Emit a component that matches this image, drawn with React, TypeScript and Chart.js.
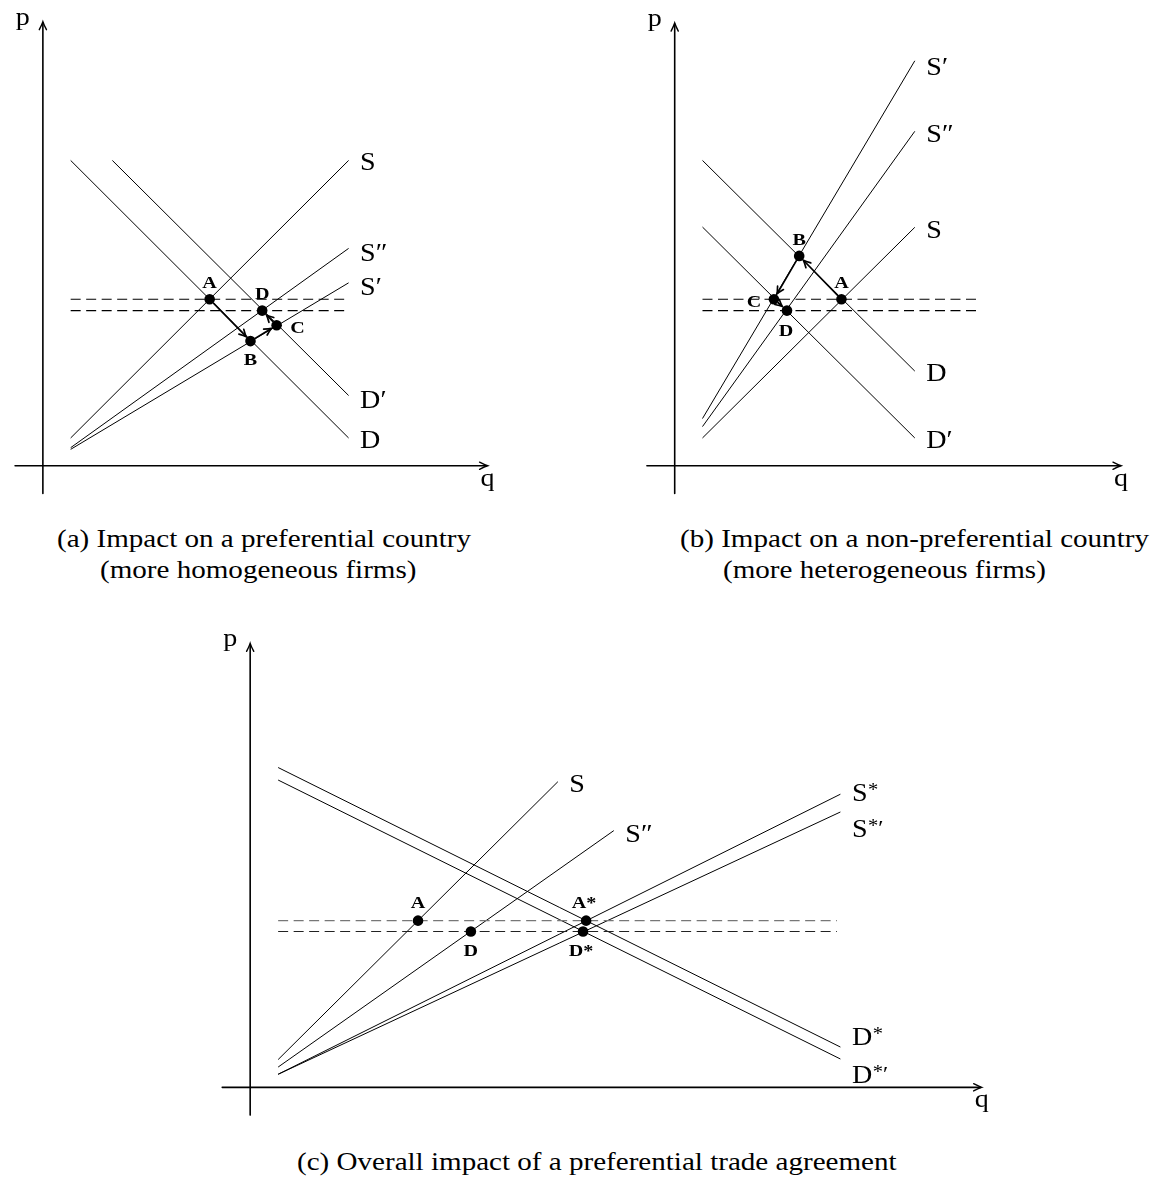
import React, { useEffect, useRef } from "react";
import { Chart, registerables } from "chart.js";

Chart.register(...registerables);

type P = [number, number];

// ---------- Panel (a): preferential country ----------
const A_LINE_NAMES = ["S", "S″", "S′", "D′", "D"];
const A_LINES: P[][] = [
  [[1, 1], [11, 11]],
  [[1, 0.65], [11, 7.83]],
  [[1, 0.59], [11, 6.59]],
  [[2.5, 11], [11, 2.53]],
  [[1, 11], [11, 1]],
];
const A_PRICE_LEVELS = [6.0, 5.59];
const A_PRICE_RANGE = [1, 10.9];
const A_POINT_NAMES = ["A", "B", "C", "D"];
const A_POINT_Q = [6.0, 7.47, 8.41, 7.89];
const A_POINT_P = [6.0, 4.49, 5.06, 5.59];
const A_ARROWS = [["A", "B"], ["B", "C"], ["C", "D"]];

// ---------- Panel (b): non-preferential country ----------
const B_LINE_NAMES = ["S′", "S″", "S", "D", "D′"];
const B_LINES: P[][] = [
  [[1, 1.7], [8.64, 14.59]],
  [[1, 1.41], [8.64, 12.05]],
  [[1, 1], [8.64, 8.59]],
  [[1, 11], [8.64, 3.41]],
  [[1, 8.6], [8.64, 1.0]],
];
const B_PRICE_LEVELS = [6.0, 5.59];
const B_PRICE_RANGE = [1, 10.9];
const B_POINT_NAMES = ["A", "B", "C", "D"];
const B_POINT_Q = [6.0, 4.48, 3.57, 4.04];
const B_POINT_P = [6.0, 7.56, 6.0, 5.59];
const B_ARROWS = [["A", "B"], ["B", "C"], ["C", "D"]];

// ---------- Panel (c): overall impact ----------
const C_LINE_NAMES = ["S", "S″", "S*", "S*′", "D*", "D*′"];
const C_LINES: P[][] = [
  [[1, 1], [11, 11]],
  [[1, 0.73], [13, 9.24]],
  [[1, 0.47], [21.1, 10.55]],
  [[1, 0.47], [21.1, 9.91]],
  [[1, 11.51], [21.1, 1.45]],
  [[1, 11.06], [21.1, 1.02]],
];
const C_PRICE_LEVELS = [6.0, 5.61];
const C_PRICE_RANGE = [1, 20.98];
const C_POINT_NAMES = ["A", "D", "A*", "D*"];
const C_POINT_Q = [6.0, 7.89, 12.01, 11.9];
const C_POINT_P = [6.0, 5.61, 6.0, 5.61];
const C_ARROWS: string[][] = [];

const AXIS_LABELS = ["p", "q"];
const CAPTIONS = [
  ["(a) Impact on a preferential country", "(more homogeneous firms)"],
  ["(b) Impact on a non-preferential country", "(more heterogeneous firms)"],
  ["(c) Overall impact of a preferential trade agreement"],
];

// ---------- styling / layout ----------
const PPU = 28.33; // pixels per unit
const SERIF = '"Liberation Serif", "Times New Roman", serif';
const SX = 1.08;
const LABEL_SIZE = 26;
const DOT_R = 5.3;

interface PanelCfg {
  left: number; top: number; w: number; h: number; ox: number; oy: number;
  axisX: P; axisY: P;
  lines: P[][]; names: string[]; labelDy: number[];
  levels: number[]; levelRange: number[]; dashColors: string[];
  pNames: string[]; pq: number[]; pp: number[]; pOff: P[];
  arrows: string[][];
}

const PANELS: PanelCfg[] = [
  {
    left: 0, top: 0, w: 560, h: 520, ox: 38.3, oy: 470,
    axisX: [-1, 16], axisY: [-1, 16],
    lines: A_LINES, names: A_LINE_NAMES, labelDy: [1, 4, 3.4, 3.4, 1.6],
    levels: A_PRICE_LEVELS, levelRange: A_PRICE_RANGE, dashColors: ["#000", "#000"],
    pNames: A_POINT_NAMES, pq: A_POINT_Q, pp: A_POINT_P,
    pOff: [[0, -17], [0, 18], [21, 2], [0, -17]],
    arrows: A_ARROWS,
  },
  {
    left: 600, top: 0, w: 555, h: 520, ox: 70.75, oy: 470,
    axisX: [-1, 16.06], axisY: [-1, 15.95],
    lines: B_LINES, names: B_LINE_NAMES, labelDy: [5, 2.4, 1.6, 1.7, 1.6],
    levels: B_PRICE_LEVELS, levelRange: B_PRICE_RANGE, dashColors: ["#000", "#000"],
    pNames: B_POINT_NAMES, pq: B_POINT_Q, pp: B_POINT_P,
    pOff: [[0, -17], [0, -17], [-20, 2], [-1, 20]],
    arrows: B_ARROWS,
  },
  {
    left: 180, top: 590, w: 840, h: 550, ox: 65.7, oy: 501.7,
    axisX: [-1, 26.15], axisY: [-1, 15.98],
    lines: C_LINES, names: C_LINE_NAMES, labelDy: [2, 3, -1.7, 16.5, -10.7, 15.3],
    levels: C_PRICE_LEVELS, levelRange: C_PRICE_RANGE, dashColors: ["#777", "#222"],
    pNames: C_POINT_NAMES, pq: C_POINT_Q, pp: C_POINT_P,
    pOff: [[0, -18], [0, 19], [-2, -18], [-2, 19]],
    arrows: C_ARROWS,
  },
];

function txt(ctx: CanvasRenderingContext2D, s: string, x: number, y: number, size: number, bold: boolean, align: string, sx = SX) {
  ctx.save();
  ctx.font = `${bold ? "bold " : ""}${size}px ${SERIF}`;
  const w = ctx.measureText(s).width * sx;
  const left = align === "center" ? x - w / 2 : align === "right" ? x - w : x;
  ctx.translate(left, y);
  ctx.scale(sx, 1);
  ctx.textAlign = "left";
  ctx.textBaseline = "alphabetic";
  ctx.fillStyle = "#000";
  ctx.fillText(s, 0, 0);
  ctx.restore();
  return w;
}

function drawLineLabel(ctx: CanvasRenderingContext2D, name: string, x: number, yBase: number) {
  const star = name.indexOf("*");
  if (star < 0) {
    txt(ctx, name, x, yBase, LABEL_SIZE, false, "left");
    return;
  }
  const base = name.slice(0, star);
  const rest = name.slice(star + 1);
  const w = txt(ctx, base, x, yBase, LABEL_SIZE, false, "left");
  const cx = x + w + 0.5;
  const sw = txt(ctx, "*", cx, yBase - 5, 19, false, "left");
  if (rest.length) txt(ctx, rest, cx + sw, yBase - 2, 22, false, "left");
}

function arrowHead(ctx: CanvasRenderingContext2D, tx: number, ty: number, dx: number, dy: number, len: number, half: number) {
  const bx = tx - dx * len, by = ty - dy * len;
  const nx = -dy, ny = dx;
  ctx.beginPath();
  ctx.moveTo(bx + nx * half, by + ny * half);
  ctx.quadraticCurveTo(tx - dx * len * 0.35 + nx * half * 0.25, ty - dy * len * 0.35 + ny * half * 0.25, tx, ty);
  ctx.quadraticCurveTo(tx - dx * len * 0.35 - nx * half * 0.25, ty - dy * len * 0.35 - ny * half * 0.25, bx - nx * half, by - ny * half);
  ctx.stroke();
}

function makeChart(canvas: HTMLCanvasElement, cfg: PanelCfg) {
  const xmin = -cfg.ox / PPU, xmax = (cfg.w - cfg.ox) / PPU;
  const ymin = -(cfg.h - cfg.oy) / PPU, ymax = cfg.oy / PPU;

  const dots = {
    data: cfg.pNames.map((_, i) => ({ x: cfg.pq[i], y: cfg.pp[i] })),
    showLine: false,
    pointRadius: DOT_R,
    pointHoverRadius: DOT_R,
    pointBackgroundColor: "#000",
    pointBorderColor: "#000",
    pointBorderWidth: 0,
  };
  const dashed = cfg.levels.map((lv, i) => ({
    data: [{ x: cfg.levelRange[0], y: lv }, { x: cfg.levelRange[1], y: lv }],
    showLine: true,
    borderColor: cfg.dashColors[i],
    borderWidth: 1.1,
    borderDash: [10, 5.5],
    pointRadius: 0,
    fill: false,
  }));
  const lines = cfg.lines.map((ln) => ({
    data: ln.map(([x, y]) => ({ x, y })),
    showLine: true,
    borderColor: "#000",
    borderWidth: 1,
    pointRadius: 0,
    fill: false,
  }));

  const overlay = {
    id: "overlay",
    afterDatasetsDraw(chart: any) {
      const ctx: CanvasRenderingContext2D = chart.ctx;
      const sx = chart.scales.x, sy = chart.scales.y;
      const X = (v: number) => sx.getPixelForValue(v);
      const Y = (v: number) => sy.getPixelForValue(v);
      ctx.save();
      ctx.strokeStyle = "#000";
      ctx.fillStyle = "#000";
      ctx.lineCap = "round";
      // axes
      ctx.lineWidth = 1.6;
      const x0 = X(0), y0 = Y(0);
      const xEnd = X(cfg.axisX[1]), yEnd = Y(cfg.axisY[1]);
      ctx.beginPath();
      ctx.moveTo(X(cfg.axisX[0]), y0);
      ctx.lineTo(xEnd - 1, y0);
      ctx.moveTo(x0, Y(cfg.axisY[0]));
      ctx.lineTo(x0, yEnd + 1);
      ctx.stroke();
      ctx.lineWidth = 1.4;
      arrowHead(ctx, xEnd, y0, 1, 0, 8, 3.6);
      arrowHead(ctx, x0, yEnd, 0, -1, 8, 3.6);
      txt(ctx, AXIS_LABELS[0], x0 - 20, yEnd + 3, LABEL_SIZE, false, "center");
      txt(ctx, AXIS_LABELS[1], xEnd, y0 + 20, LABEL_SIZE, false, "center");

      // movement arrows between equilibria
      ctx.lineWidth = 1.7;
      cfg.arrows.forEach(([a, b]) => {
        const i = cfg.pNames.indexOf(a), j = cfg.pNames.indexOf(b);
        const ax = X(cfg.pq[i]), ay = Y(cfg.pp[i]);
        const bx = X(cfg.pq[j]), by = Y(cfg.pp[j]);
        const L = Math.hypot(bx - ax, by - ay);
        const dx = (bx - ax) / L, dy = (by - ay) / L;
        const sxp = ax + dx * (DOT_R + 0.5), syp = ay + dy * (DOT_R + 0.5);
        const ex = bx - dx * (DOT_R + 0.8), ey = by - dy * (DOT_R + 0.8);
        ctx.beginPath();
        ctx.moveTo(sxp, syp);
        ctx.lineTo(ex - dx * 1, ey - dy * 1);
        ctx.stroke();
        arrowHead(ctx, ex, ey, dx, dy, 7, 3.4);
      });

      // line labels
      cfg.lines.forEach((ln, k) => {
        const end = ln[ln.length - 1];
        const lx = X(end[0]) + 11.5;
        const cy = Y(end[1]) + cfg.labelDy[k];
        drawLineLabel(ctx, cfg.names[k], lx, cy + 8.7);
      });

      // point labels
      cfg.pNames.forEach((n, i) => {
        const px = X(cfg.pq[i]) + cfg.pOff[i][0];
        const cy = Y(cfg.pp[i]) + cfg.pOff[i][1];
        txt(ctx, n, px, cy + 5.7, 16.5, true, "center", 1.22);
      });
      ctx.restore();
    },
  };

  return new Chart(canvas, {
    type: "scatter",
    data: { datasets: [dots, ...dashed, ...lines] as any },
    options: {
      responsive: false,
      animation: false,
      events: [],
      layout: { padding: 0 },
      plugins: { legend: { display: false }, tooltip: { enabled: false }, title: { display: false } },
      scales: {
        x: { type: "linear", min: xmin, max: xmax, display: false, grid: { display: false } },
        y: { type: "linear", min: ymin, max: ymax, display: false, grid: { display: false } },
      },
    } as any,
    plugins: [overlay],
  });
}

function Panel({ cfg }: { cfg: PanelCfg }) {
  const ref = useRef<HTMLCanvasElement | null>(null);
  useEffect(() => {
    if (!ref.current) return;
    const ch = makeChart(ref.current, cfg);
    return () => ch.destroy();
  }, [cfg]);
  return (
    <canvas
      ref={ref}
      width={cfg.w}
      height={cfg.h}
      style={{ position: "absolute", left: cfg.left, top: cfg.top, width: cfg.w, height: cfg.h }}
    />
  );
}

const CAPTION_POS: { left: number; top: number }[][] = [
  [{ left: 57, top: 523 }, { left: 100, top: 554 }],
  [{ left: 680, top: 523 }, { left: 723, top: 554 }],
  [{ left: 297, top: 1146 }],
];

export default function App() {
  return (
    <div style={{ position: "absolute", left: 0, top: 0, width: 1155, height: 1180, background: "#fff", overflow: "hidden" }}>
      {PANELS.map((p, i) => (
        <Panel key={i} cfg={p} />
      ))}
      {CAPTIONS.map((lines, i) =>
        lines.map((t, j) => (
          <div
            key={`${i}-${j}`}
            style={{
              position: "absolute",
              left: CAPTION_POS[i][j].left,
              top: CAPTION_POS[i][j].top,
              fontFamily: SERIF,
              fontSize: 26,
              lineHeight: "31px",
              whiteSpace: "nowrap",
              color: "#000",
              transform: "scaleX(1.118)",
              transformOrigin: "left top",
            }}
          >
            {t}
          </div>
        ))
      )}
    </div>
  );
}
